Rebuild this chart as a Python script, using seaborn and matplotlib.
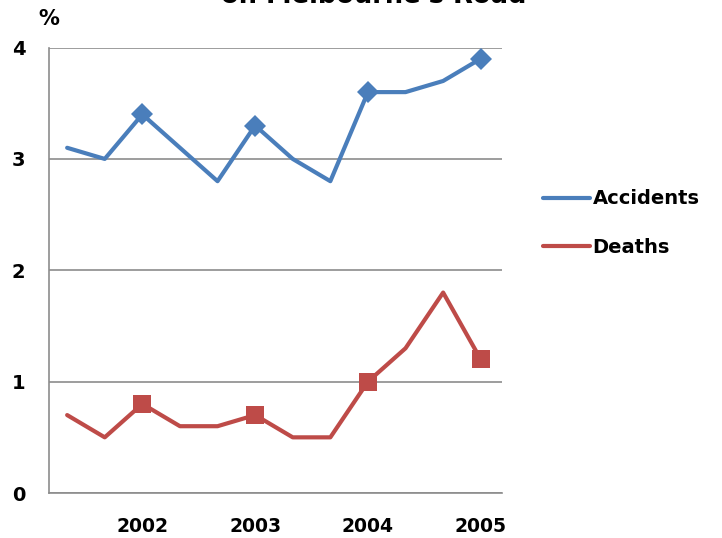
import numpy as np
import pandas as pd
import matplotlib
matplotlib.use("Agg")
import matplotlib.pyplot as plt
from matplotlib.lines import Line2D
import seaborn as sns

# ---- data ----
years = ["2002", "2003", "2004", "2005"]
accidents = [3.1, 3.0, 3.4, 3.1, 2.8, 3.3, 3.0, 2.8, 3.6, 3.6, 3.7, 3.9]
deaths = [0.7, 0.5, 0.8, 0.6, 0.6, 0.7, 0.5, 0.5, 1.0, 1.3, 1.8, 1.2]
year_idx = [2, 5, 8, 11]   # points that carry a marker / year label

df = pd.DataFrame({"step": np.arange(len(accidents)),
                   "Accidents": accidents, "Deaths": deaths})

blue = "#4A7EBB"
red = "#BE4B48"
grid_col = "#8C8C8C"

sns.set_style("white")
plt.rcParams["font.family"] = ["DejaVu Sans"]
plt.rcParams["font.weight"] = "bold"
plt.rcParams["text.color"] = "black"
plt.rcParams["xtick.color"] = "black"
plt.rcParams["ytick.color"] = "black"

fig = plt.figure(figsize=(7.22, 5.38), dpi=100)
ax = fig.add_axes([0.068, 0.0836, 0.627, 0.828])

sns.lineplot(data=df, x="step", y="Accidents", ax=ax, color=blue, lw=3,
             marker="D", markersize=11.5, markevery=year_idx,
             markeredgewidth=0)
sns.lineplot(data=df, x="step", y="Deaths", ax=ax, color=red, lw=3,
             marker="s", markersize=13, markevery=year_idx,
             markeredgewidth=0)

ax.set_xlim(-0.48, 11.56)
ax.set_ylim(0, 4)
ax.set_yticks([0, 1, 2, 3, 4])
ax.set_xticks(year_idx)
ax.set_xticklabels(years)
ax.set_xlabel("")
ax.set_ylabel("")
ax.tick_params(axis="y", length=0, pad=17, labelsize=14)
ax.tick_params(axis="x", length=0, pad=17, labelsize=13.5)
for lab in ax.get_xticklabels() + ax.get_yticklabels():
    lab.set_fontweight("bold")

ax.grid(axis="y", color=grid_col, lw=1.2)
ax.set_axisbelow(True)
for side in ["top", "right"]:
    ax.spines[side].set_visible(False)
for side in ["left", "bottom"]:
    ax.spines[side].set_color(grid_col)
    ax.spines[side].set_linewidth(1.2)

# % label above the y axis
fig.text(49 / 722, 1 - 19 / 538, "%", ha="center", va="center",
         fontsize=15, fontweight="bold")

# title, only its lower part fits in the picture (as in the reference)
fig.text(374 / 722, 1 - 3 / 538, "on Melbourne's Road", ha="center",
         va="baseline", fontsize=18.5, fontweight="bold")

handles = [Line2D([], [], color=blue, lw=3), Line2D([], [], color=red, lw=3)]
fig.legend(handles, ["Accidents", "Deaths"], loc="center left",
           bbox_to_anchor=(543 / 722, 1 - 223 / 538), frameon=False,
           borderpad=0, borderaxespad=0, handlelength=2.4,
           handletextpad=0.15, labelspacing=1.5,
           prop={"size": 14, "weight": "bold"})

fig.savefig("out.png", dpi=100)
